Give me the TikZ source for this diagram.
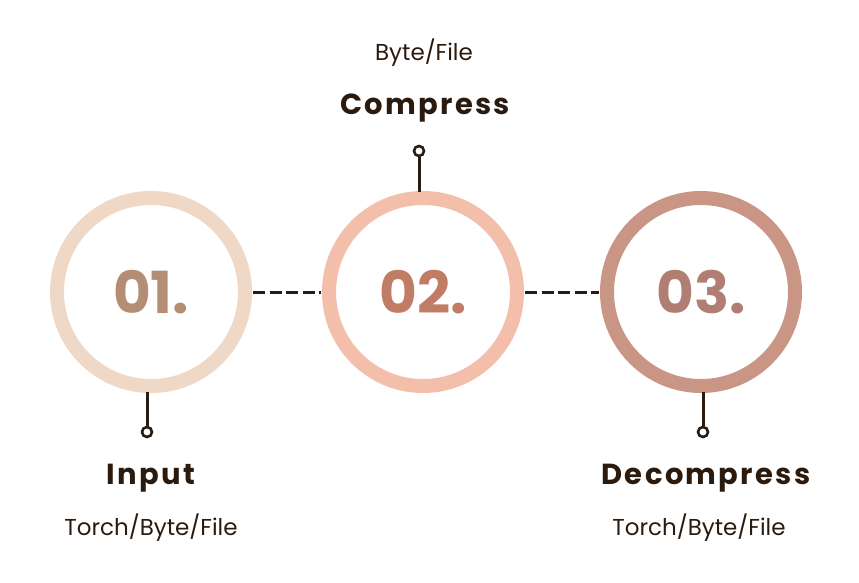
\documentclass[tikz,border=0pt]{standalone}
\usepackage{fontspec}
\setmainfont{Poppins}
\newfontfamily\titlefont[LetterSpace=8]{Poppins}
\definecolor{ink}{HTML}{2B1A0E}
\definecolor{ringA}{HTML}{F0D8C6}
\definecolor{ringB}{HTML}{F3BFAA}
\definecolor{ringC}{HTML}{C99686}
\definecolor{numA}{HTML}{B48E74}
\definecolor{numB}{HTML}{C07C64}
\definecolor{numC}{HTML}{B07E72}
\begin{document}
\begin{tikzpicture}[x=1pt,y=-1pt,
  ring/.style={circle,minimum size=188pt,line width=14pt,inner sep=0pt,
    font=\fontsize{58}{60}\selectfont\bfseries},
  pin/.style={circle,draw=ink,line width=2.6pt,fill=white,minimum size=10pt,inner sep=0pt},
  stem/.style={draw=ink,line width=3pt},
  dashline/.style={draw=ink,line width=3pt,dash pattern=on 12pt off 4.5pt},
  title/.style={text=ink,font=\titlefont\fontsize{29}{32}\selectfont\bfseries},
  sub/.style={text=ink,font=\fontsize{23}{26}\selectfont}]
\useasboundingbox (0,0) rectangle (859,583);
\node[ring,draw=ringA,text=numA] (c1) at (151,292) {01.};
\node[ring,draw=ringB,text=numB] (c2) at (423,292) {02.};
\node[ring,draw=ringC,text=numC] (c3) at (701,292) {03.};
\path[dashline] (c1.east) ++(1pt,0) -- ([xshift=-1pt]c2.west);
\path[dashline] (c2.east) ++(1pt,0) -- ([xshift=-1pt]c3.west);
\node[pin] (p2) at (419,151) {};
\node[pin] (p1) at (147,432) {};
\node[pin] (p3) at (703,432) {};
\path[stem] (p2.south) -- (419,192);
\path[stem] (p1.north) -- (147,392);
\path[stem] (p3.north) -- (703,392);
\node[title] (t2) at (425,108) {Compress};
\node[sub] (s2) at (424,53) {Byte/File};
\node[title] (t1) at (151,478) {Input};
\node[sub] (s1) at (151,528) {Torch/Byte/File};
\node[title] (t3) at (706,478) {Decompress};
\node[sub] (s3) at (699,528) {Torch/Byte/File};
\end{tikzpicture}
\end{document}
